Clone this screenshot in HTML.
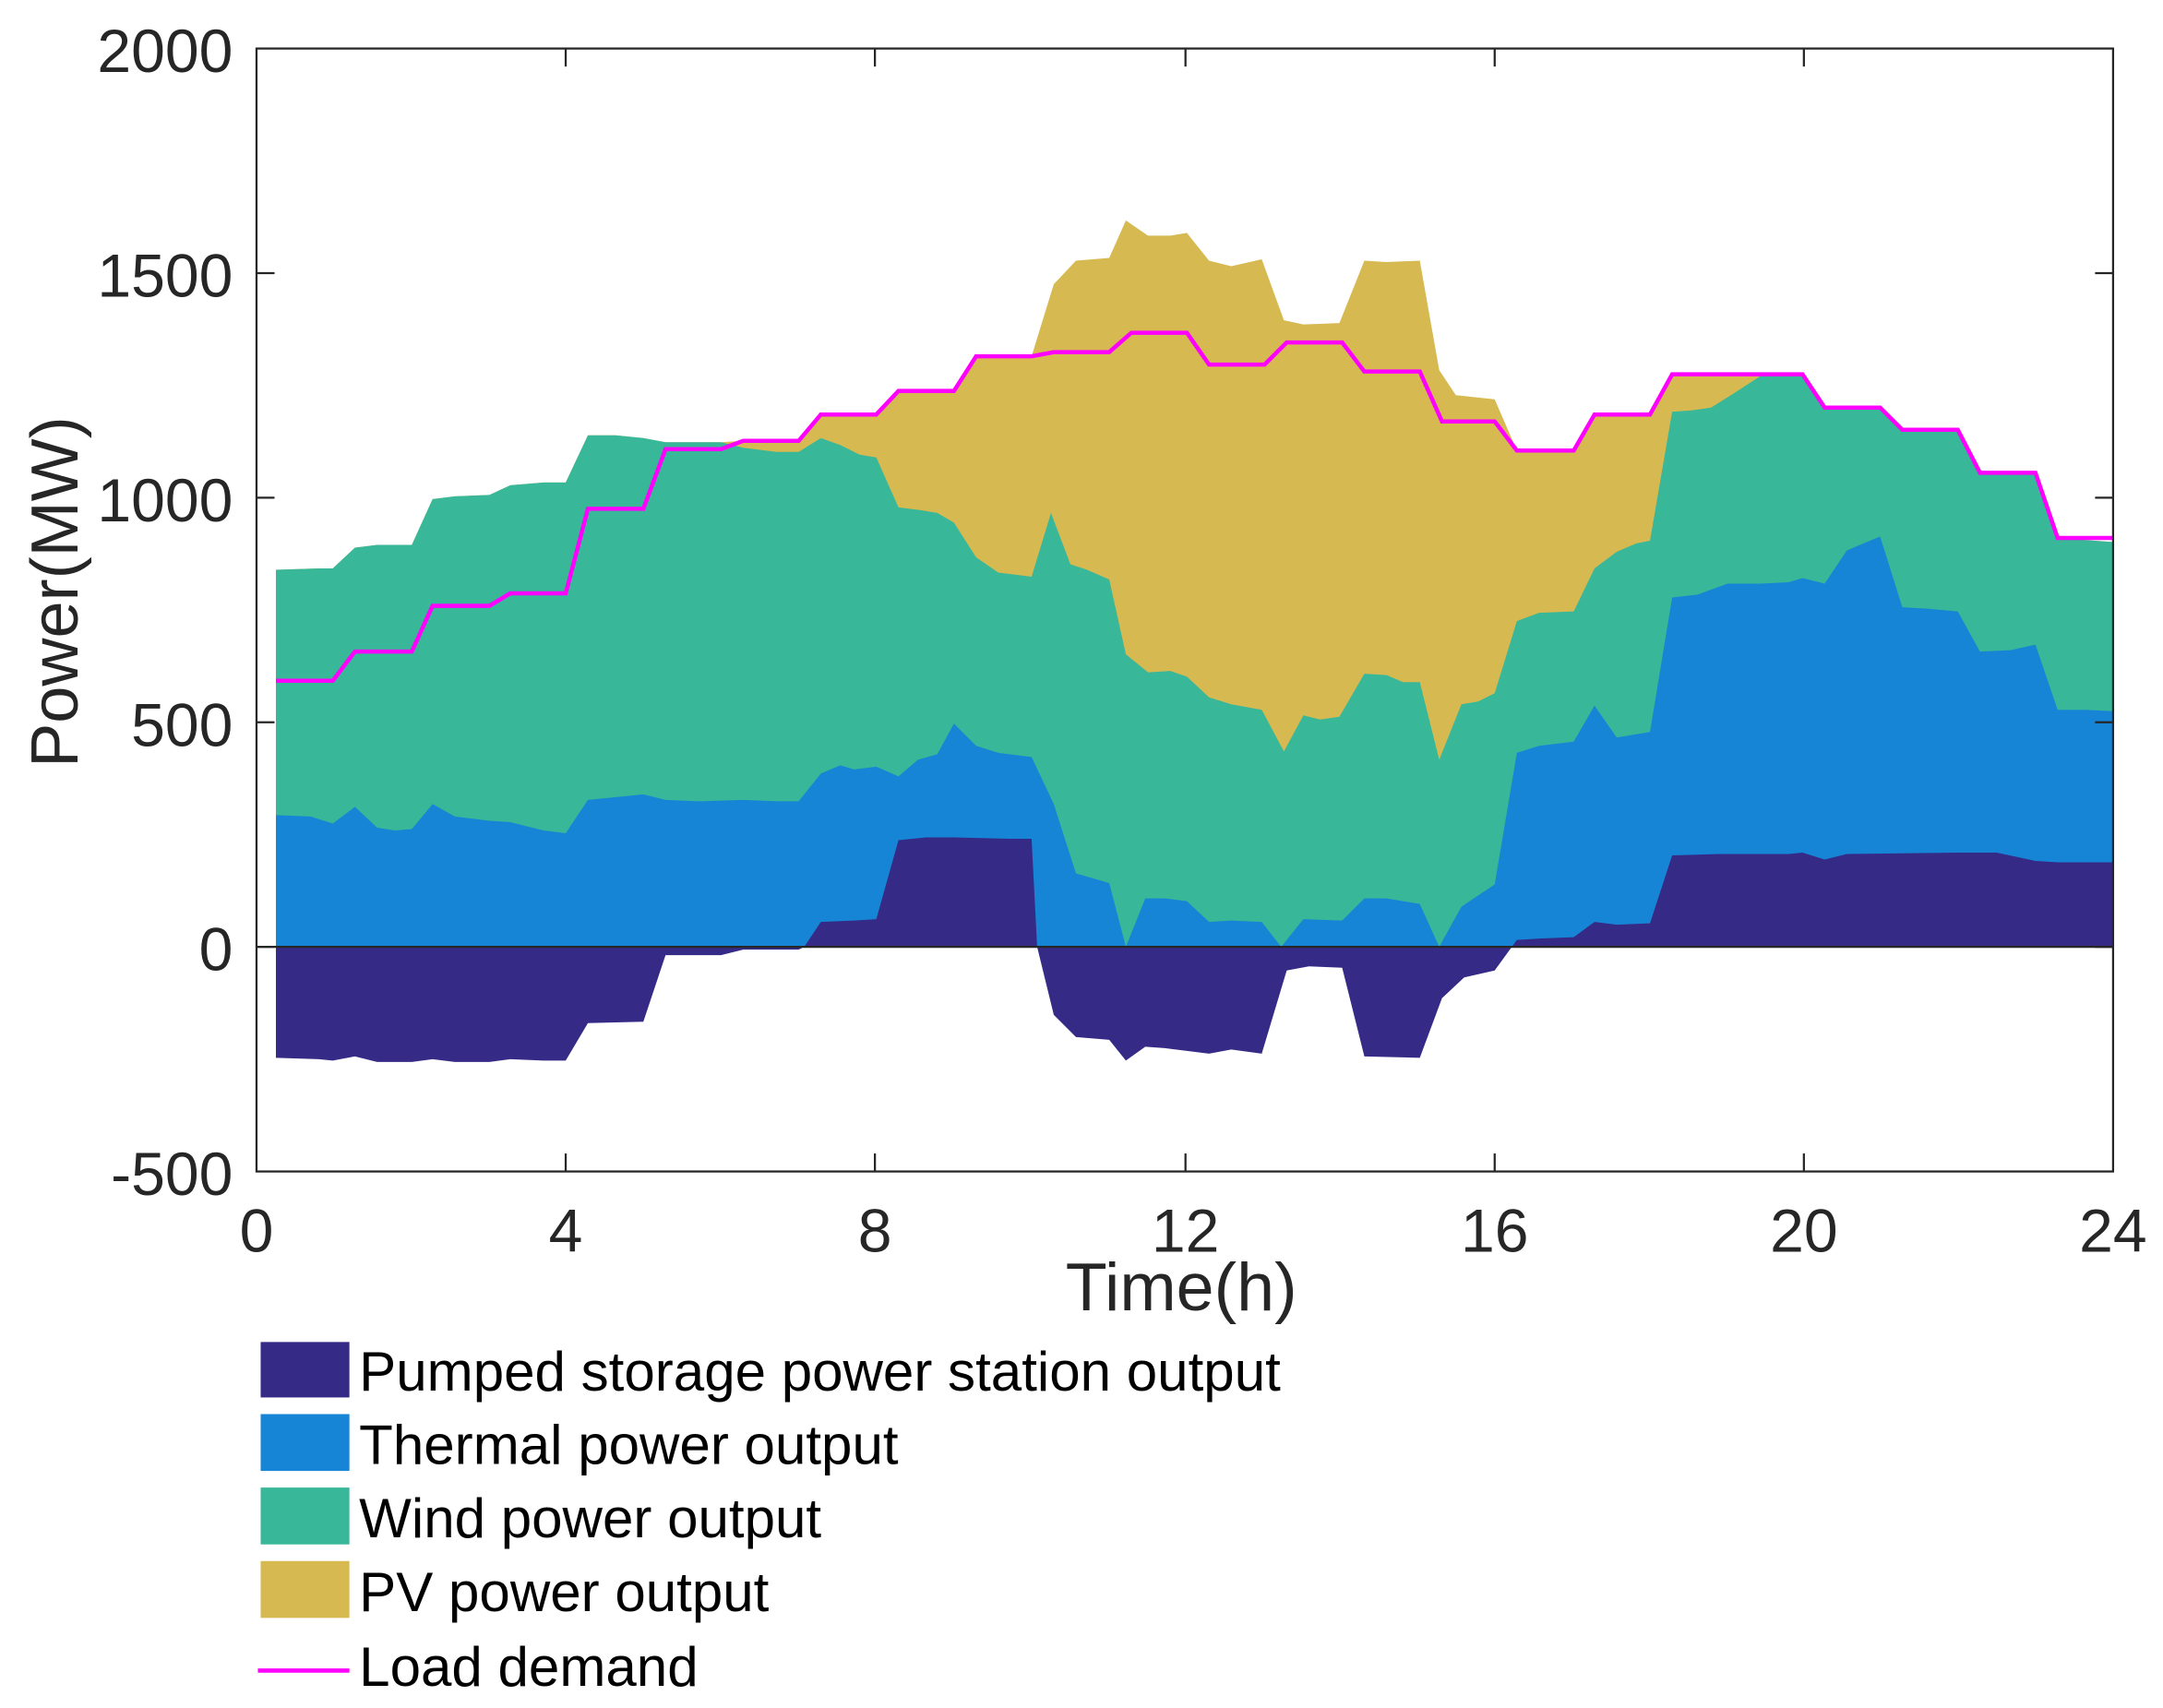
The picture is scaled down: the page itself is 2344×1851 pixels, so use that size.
<!DOCTYPE html>
<html><head><meta charset="utf-8"><style>html,body{margin:0;padding:0;background:#fff}svg{display:block}</style></head>
<body>
<svg width="2344" height="1851" viewBox="0 0 1560 1232" preserveAspectRatio="none" xmlns="http://www.w3.org/2000/svg" font-family="Liberation Sans, Arial, sans-serif">
<rect width="1560" height="1232" fill="#fff"/>
<polygon fill="#d7b952" points="199,683 199,411 230,410 240,410 256,395 272,393 297,393 312,360 328,358 353,357 368,350 392,348 408,348 424,314 444,314 464,316 480,319 520,319 536,318 576,318 592,299 632,299 648,282 688,282 704,257 744,257 760,205 776,188 800,186 812,159 828,170 844,170 856,168 872,188 888,192 910,187 926,231 940,234 966,233 984,188 1000,189 1024,188 1038,267 1050,285 1078,288 1094,325 1135,325 1150,299 1190,299 1206,270 1300,270 1316,294 1356,294 1372,310 1412,310 1428,341 1468,341 1484,388 1524,391 1524,683"/>
<polygon fill="#38b799" points="199,683 199,411 230,410 240,410 256,395 272,393 297,393 312,360 328,358 353,357 368,350 392,348 408,348 424,314 444,314 464,316 480,319 520,319 536,323 560,326 576,326 592,316 606,321 620,328 632,330 648,366 664,368 676,370 688,377 704,402 720,413 744,416 758,370 772,407 784,411 800,418 812,472 828,485 844,484 856,488 872,503 888,508 910,512 926,542 940,516 952,519 966,517 984,486 1000,487 1012,492 1024,492 1038,548 1054,508 1066,506 1078,500 1094,448 1110,442 1135,441 1150,410 1166,398 1180,392 1190,390 1206,297 1220,296 1234,294 1250,284 1270,271 1290,270 1300,270 1316,294 1356,294 1372,310 1412,310 1428,341 1468,341 1484,388 1524,391 1524,683"/>
<polygon fill="#1785d5" points="199,683 199,588 224,589 240,594 256,582 272,597 285,599 297,598 312,580 328,589 353,592 368,593 392,599 408,601 424,577 444,575 464,573 480,577 504,578 536,577 560,578 576,578 592,558 606,552 616,555 632,553 648,560 662,548 676,544 688,522 704,538 720,543 744,546 760,580 776,630 800,637 812,683 826,648 840,648 856,650 872,665 888,664 910,665 924,683 940,663 968,664 984,648 1000,648 1024,652 1038,683 1054,654 1078,638 1094,543 1110,538 1135,535 1150,509 1166,532 1190,528 1206,431 1224,429 1246,421 1270,421 1290,420 1300,417 1316,421 1332,397 1356,387 1372,438 1390,439 1412,441 1428,470 1450,469 1468,465 1484,512 1504,512 1524,513 1524,683"/>
<polygon fill="#352a86" points="199,683 199,763 230,764 240,765 256,762 272,766 297,766 312,764 328,766 353,766 368,764 392,765 408,765 424,738 464,737 480,689 520,689 536,685 576,685 580,683 592,665 616,664 632,663 648,606 668,604 688,604 728,605 744,605 748,683 760,732 776,748 800,750 812,765 826,755 840,756 856,758 872,760 888,757 910,760 928,700 944,697 968,698 984,762 1024,763 1040,720 1056,705 1078,700 1094,678 1110,677 1135,676 1150,665 1166,667 1190,666 1206,617 1240,616 1290,616 1300,615 1316,620 1332,616 1412,615 1440,615 1468,621 1484,622 1524,622 1524,683"/>
<polyline fill="none" stroke="#ff00ff" stroke-width="3" points="199,491 240,491 256,470 297,470 312,437 353,437 368,428 408,428 424,367 464,367 480,324 520,324 536,318 576,318 592,299 632,299 648,282 688,282 704,257 744,257 760,254 800,254 816,240 856,240 872,263 912,263 928,247 968,247 984,268 1024,268 1040,304 1078,304 1094,325 1135,325 1150,299 1190,299 1206,270 1300,270 1316,294 1356,294 1372,310 1412,310 1428,341 1468,341 1484,388 1524,388"/>
<rect x="185" y="35" width="1339" height="810" fill="none" stroke="#262626" stroke-width="1.5"/>
<g stroke="#262626" stroke-width="1.5">
<line x1="185" y1="683" x2="1524" y2="683"/>
<line x1="185" y1="197" x2="198" y2="197"/><line x1="1524" y1="197" x2="1511" y2="197"/>
<line x1="185" y1="359" x2="198" y2="359"/><line x1="1524" y1="359" x2="1511" y2="359"/>
<line x1="185" y1="521" x2="198" y2="521"/><line x1="1524" y1="521" x2="1511" y2="521"/>
<line x1="185" y1="683" x2="198" y2="683"/><line x1="1524" y1="683" x2="1511" y2="683"/>
<line x1="408" y1="845" x2="408" y2="832"/><line x1="408" y1="35" x2="408" y2="48"/>
<line x1="631" y1="845" x2="631" y2="832"/><line x1="631" y1="35" x2="631" y2="48"/>
<line x1="855" y1="845" x2="855" y2="832"/><line x1="855" y1="35" x2="855" y2="48"/>
<line x1="1078" y1="845" x2="1078" y2="832"/><line x1="1078" y1="35" x2="1078" y2="48"/>
<line x1="1301" y1="845" x2="1301" y2="832"/><line x1="1301" y1="35" x2="1301" y2="48"/>
</g>
<g font-size="44" fill="#262626" text-anchor="end">
<text x="168" y="52">2000</text><text x="168" y="214">1500</text><text x="168" y="376">1000</text>
<text x="168" y="538">500</text><text x="168" y="700">0</text><text x="168" y="862">-500</text>
</g>
<g font-size="44" fill="#262626" text-anchor="middle">
<text x="185" y="903">0</text><text x="408" y="903">4</text><text x="631" y="903">8</text>
<text x="855" y="903">12</text><text x="1078" y="903">16</text><text x="1301" y="903">20</text><text x="1524" y="903">24</text>
</g>
<text x="852" y="945" font-size="49" fill="#262626" text-anchor="middle">Time(h)</text>
<text transform="translate(56,427) rotate(-90)" font-size="48" fill="#262626" text-anchor="middle">Power(MW)</text>
<rect x="188" y="968" width="64" height="40" fill="#352a86"/>
<rect x="188" y="1020" width="64" height="41" fill="#1785d5"/>
<rect x="188" y="1073" width="64" height="41" fill="#38b799"/>
<rect x="188" y="1126" width="64" height="41" fill="#d7b952"/>
<line x1="186" y1="1205" x2="252" y2="1205" stroke="#ff00ff" stroke-width="3"/>
<g font-size="40" fill="#000">
<text x="259" y="1003">Pumped storage power station output</text>
<text x="259" y="1056">Thermal power output</text>
<text x="259" y="1109">Wind power output</text>
<text x="259" y="1162">PV power output</text>
<text x="259" y="1216">Load demand</text>
</g>
</svg>
</body></html>
